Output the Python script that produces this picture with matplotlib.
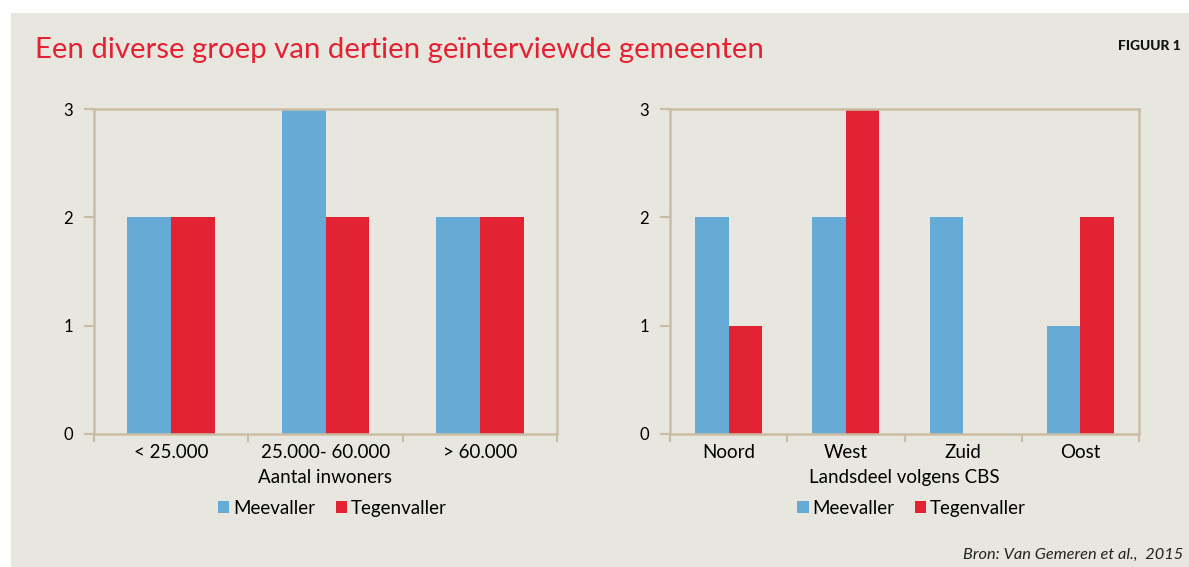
import numpy as np
import matplotlib.pyplot as plt
from matplotlib.patches import Rectangle

# data
cats_left = ['< 25.000', '25.000- 60.000', '> 60.000']
mee_left = [2, 3, 2]
tegen_left = [2, 2, 2]

cats_right = ['Noord', 'West', 'Zuid', 'Oost']
mee_right = [2, 2, 2, 1]
tegen_right = [1, 3, 0, 2]

yticks = [0, 1, 2, 3]

# kleuren
bg = '#E8E7DF'
blue = '#66ABD5'
red = '#E32233'
frame = '#CBBDA5'
plt.rcParams['font.family'] = ['Lato', 'DejaVu Sans']

fig = plt.figure(figsize=(11.89, 5.67), dpi=100)
fig.patch.set_facecolor('white')
# achtergrondpaneel
fig.patches.append(Rectangle((11 / 1189, 0), 1, 1 - 13 / 567, transform=fig.transFigure,
                             facecolor=bg, edgecolor='none', zorder=-10))

fig.text(35 / 1189, 1 - 50 / 567, 'Een diverse groep van dertien geïnterviewde gemeenten',
         color=red, fontsize=21.2, va='center', ha='left')
fig.text(1181 / 1189, 1 - 46 / 567, 'FIGUUR 1', fontsize=10, fontweight='black',
         ha='right', va='center', color='#111111')
fig.text(1183 / 1189, 1 - 555 / 567, 'Bron: Van Gemeren et al.,  2015', fontsize=11.8,
         style='italic', ha='right', va='center', color='#222222')


def draw(ax, cats, mee, tegen, xlabel):
    x = np.arange(len(cats))
    w = 0.285
    ax.set_facecolor(bg)
    ax.bar(x - w / 2, mee, w, color=blue, label='Meevaller', zorder=2)
    ax.bar(x + w / 2, tegen, w, color=red, label='Tegenvaller', zorder=2)
    ax.set_xlim(-0.5, len(cats) - 0.5)
    ax.set_ylim(0, 3)
    ax.set_yticks(yticks)
    ax.set_xticks(x)
    ax.set_xticklabels(cats, fontsize=13.5)
    ax.set_xticks(np.arange(len(cats) + 1) - 0.5, minor=True)
    ax.tick_params(axis='x', which='major', length=0, pad=7)
    ax.tick_params(axis='x', which='minor', length=6, width=1.5, color=frame)
    ax.tick_params(axis='y', length=7, width=1.5, color=frame, pad=8, labelsize=12)
    for s in ax.spines.values():
        s.set_color(frame)
        s.set_linewidth(1.8)
    ax.set_xlabel(xlabel, fontsize=13.5, labelpad=6)
    ax.legend(loc='upper center', bbox_to_anchor=(0.515, -0.15), ncol=2, frameon=False,
              fontsize=13.5, handlelength=0.6, handleheight=0.6, handletextpad=0.2,
              columnspacing=1.1)


ax1 = fig.add_axes([94 / 1189, 1 - 434 / 567, 463 / 1189, 325 / 567])
draw(ax1, cats_left, mee_left, tegen_left, 'Aantal inwoners')
ax2 = fig.add_axes([670 / 1189, 1 - 434 / 567, 469 / 1189, 325 / 567])
draw(ax2, cats_right, mee_right, tegen_right, 'Landsdeel volgens CBS')

plt.savefig('out.png', dpi=100, facecolor=fig.get_facecolor())
